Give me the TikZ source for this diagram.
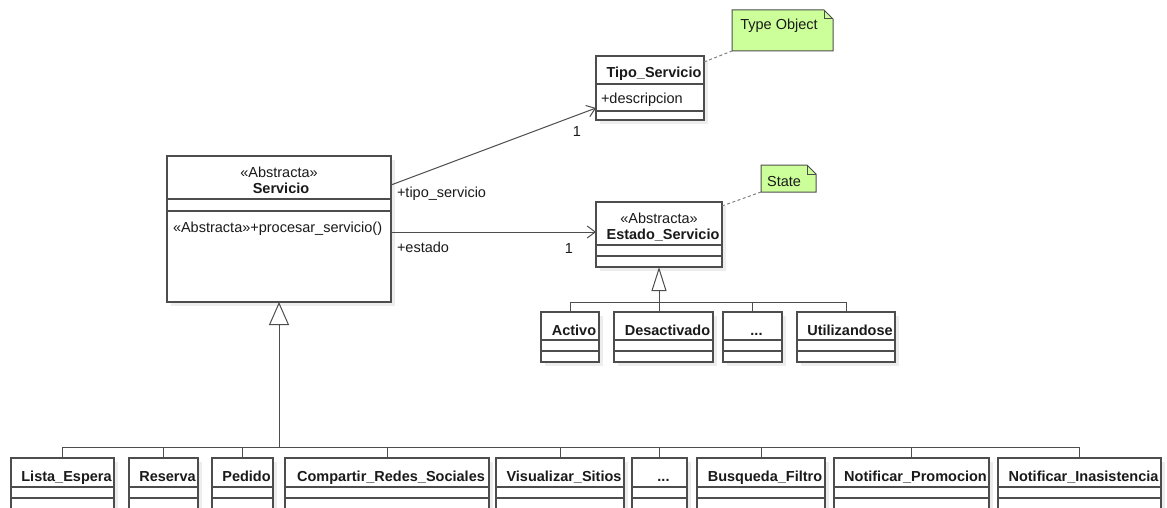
\documentclass[tikz,border=0pt]{standalone}
\usepackage{fontspec}
\setmainfont{Liberation Sans}
\usetikzlibrary{arrows.meta,shadows}

\definecolor{umlline}{HTML}{4D4D4D}
\definecolor{umltext}{HTML}{1A1A1A}
\definecolor{notegreen}{HTML}{CCFF99}
\definecolor{dashgray}{HTML}{808080}

\tikzset{
  every node/.style={font=\fontsize{14.5}{17}\selectfont, text=umltext, inner sep=0pt, outer sep=0pt},
  classbox/.style={draw=umlline, line width=1.1pt, fill=white,
    general shadow={fill=black!7, shadow xshift=4pt, shadow yshift=-4pt}},
  classline/.style={draw=umlline, line width=1.1pt},
  classname/.style={font=\fontsize{14.5}{17}\selectfont\bfseries},
  notebox/.style={draw=umlline, line width=1pt, fill=notegreen},
  noteline/.style={draw=dashgray, line width=1pt, dash pattern=on 3pt off 2.5pt},
  assoc/.style={draw=umlline, line width=1pt,
    -{Straight Barb[length=8pt, width=12pt, line width=1pt]}},
  genline/.style={draw=umlline, line width=1pt},
  genbig/.style={genline, -{Triangle[open, length=23pt, width=20pt, line width=1pt]}},
  gensmall/.style={genline, -{Triangle[open, length=24pt, width=15pt, line width=1pt]}},
}

% class box: name, left, top, right, bottom, first separator, second separator,
% title baseline, title
\newcommand\umlclass[9]{%
  \node[classbox, anchor=north west,
        minimum width={(#4)-(#2)}, minimum height={(#5)-(#3)}] (#1) at (#2,#3) {};
  \draw[classline] (#2,#6) -- (#4,#6) (#2,#7) -- (#4,#7);
  \node[classname, anchor=base] (#1-title) at ({(#2+#4)/2+4},#8) {#9};
}

% UML note with folded corner: name, left, top, right, bottom
\newcommand\umlnote[5]{%
  \node[anchor=north west, minimum width={(#4)-(#2)}, minimum height={(#5)-(#3)}] (#1) at (#2,#3) {};
  \draw[notebox] (#1.north west) -- ([xshift=-9pt]#1.north east)
    -- ([yshift=-9pt]#1.north east) -- (#1.south east) -- (#1.south west) -- cycle;
  \draw[classline, line width=1pt] ([xshift=-9pt]#1.north east) |- ([yshift=-9pt]#1.north east);
}

\begin{document}
\begin{tikzpicture}[x=1pt, y=-1pt]
\useasboundingbox (0,0) rectangle (1167,508);
\clip (0,0) rectangle (1167,508);
\fill[white] (0,0) rectangle (1167,508);

% ---- Servicio ----
\node[classbox, anchor=north west, minimum width=224, minimum height=146] (servicio) at (167,156) {};
\draw[classline] (167,199) -- (391,199) (167,211) -- (391,211);
\node[anchor=base] (servicio-st) at (279,177) {«Abstracta»};
\node[classname, anchor=base] (servicio-title) at (281,193) {Servicio};
\node[anchor=base west] (servicio-op) at (173,232) {«Abstracta»+procesar\_servicio()};

% ---- Tipo_Servicio ----
\node[classbox, anchor=north west, minimum width=108, minimum height=64] (tipo) at (596,56) {};
\draw[classline] (596,84) -- (704,84) (596,111) -- (704,111);
\node[classname, anchor=base] (tipo-title) at (654,78) {Tipo\_Servicio};
\node[anchor=base west] (tipo-attr) at (601,104) {+descripcion};

% ---- Estado_Servicio ----
\node[classbox, anchor=north west, minimum width=126, minimum height=65] (estado) at (596,202) {};
\draw[classline] (596,245) -- (722,245) (596,256) -- (722,256);
\node[anchor=base] (estado-st) at (659,223) {«Abstracta»};
\node[classname, anchor=base] (estado-title) at (663,239) {Estado\_Servicio};

% ---- notes ----
\umlnote{typeobj}{732}{10}{833}{51}
\node[anchor=base] (typeobj-text) at (779,30) {Type Object};
\umlnote{statenote}{761}{165}{816}{192}
\node[anchor=base] (statenote-text) at (784,186) {State};
\draw[noteline] ([yshift=-6pt]tipo.north east) -- (typeobj.south west);
\draw[noteline] ([yshift=-4pt]estado.north east) -- (statenote.south west);

% ---- associations ----
\draw[assoc] ([yshift=-29pt]servicio.north east) -- ([yshift=-52pt]tipo.north west);
\draw[assoc] ([yshift=-76pt]servicio.north east) -- ([yshift=-30pt]estado.north west);
\node[anchor=base west] (lbl-tipo) at (397,197) {+tipo\_servicio};
\node[anchor=base] (mul-tipo) at (577,137) {1};
\node[anchor=base west] (lbl-estado) at (397,252) {+estado};
\node[anchor=base] (mul-estado) at (569,253) {1};

% ---- states of Estado_Servicio ----
\umlclass{activo}{541}{312}{599}{362}{340}{351}{335}{Activo}
\umlclass{desact}{614}{312}{713}{362}{340}{351}{335}{Desactivado}
\umlclass{puntos}{723}{312}{782}{362}{340}{351}{335}{...}
\umlclass{utiliz}{797}{312}{895}{362}{340}{351}{335}{Utilizandose}

\coordinate (busE) at (0,302);
\draw[gensmall] (estado.south |- busE) -- (estado.south);
\draw[genline] (estado.south |- busE) -- (estado.south |- desact.north);
\draw[genline] (activo.north) -- (activo.north |- busE) -- (utiliz.north |- busE) -- (utiliz.north);
\draw[genline] (puntos.north) -- (puntos.north |- busE);

% ---- concrete services ----
\umlclass{lista}{11}{458}{114}{512}{487}{498}{481}{Lista\_Espera}
\umlclass{reserva}{129}{458}{198}{512}{487}{498}{481}{Reserva}
\umlclass{pedido}{212}{458}{273}{512}{487}{498}{481}{Pedido}
\umlclass{compartir}{285}{458}{489}{512}{487}{498}{481}{Compartir\_Redes\_Sociales}
\umlclass{visualizar}{496}{458}{624}{512}{487}{498}{481}{Visualizar\_Sitios}
\umlclass{dots}{632}{458}{687}{512}{487}{498}{481}{...}
\umlclass{busqueda}{697}{458}{825}{512}{487}{498}{481}{Busqueda\_Filtro}
\umlclass{promocion}{834}{458}{989}{512}{487}{498}{481}{Notificar\_Promocion}
\umlclass{inas}{998}{458}{1161}{512}{487}{498}{481}{Notificar\_Inasistencia}

\coordinate (busS) at (0,447);
\draw[genbig] (servicio.south |- busS) -- (servicio.south);
\draw[genline] (lista.north) -- (lista.north |- busS) -- (inas.north |- busS) -- (inas.north);
\foreach \n in {reserva,pedido,compartir,visualizar,dots,busqueda,promocion}
  \draw[genline] (\n.north) -- (\n.north |- busS);
\end{tikzpicture}
\end{document}
